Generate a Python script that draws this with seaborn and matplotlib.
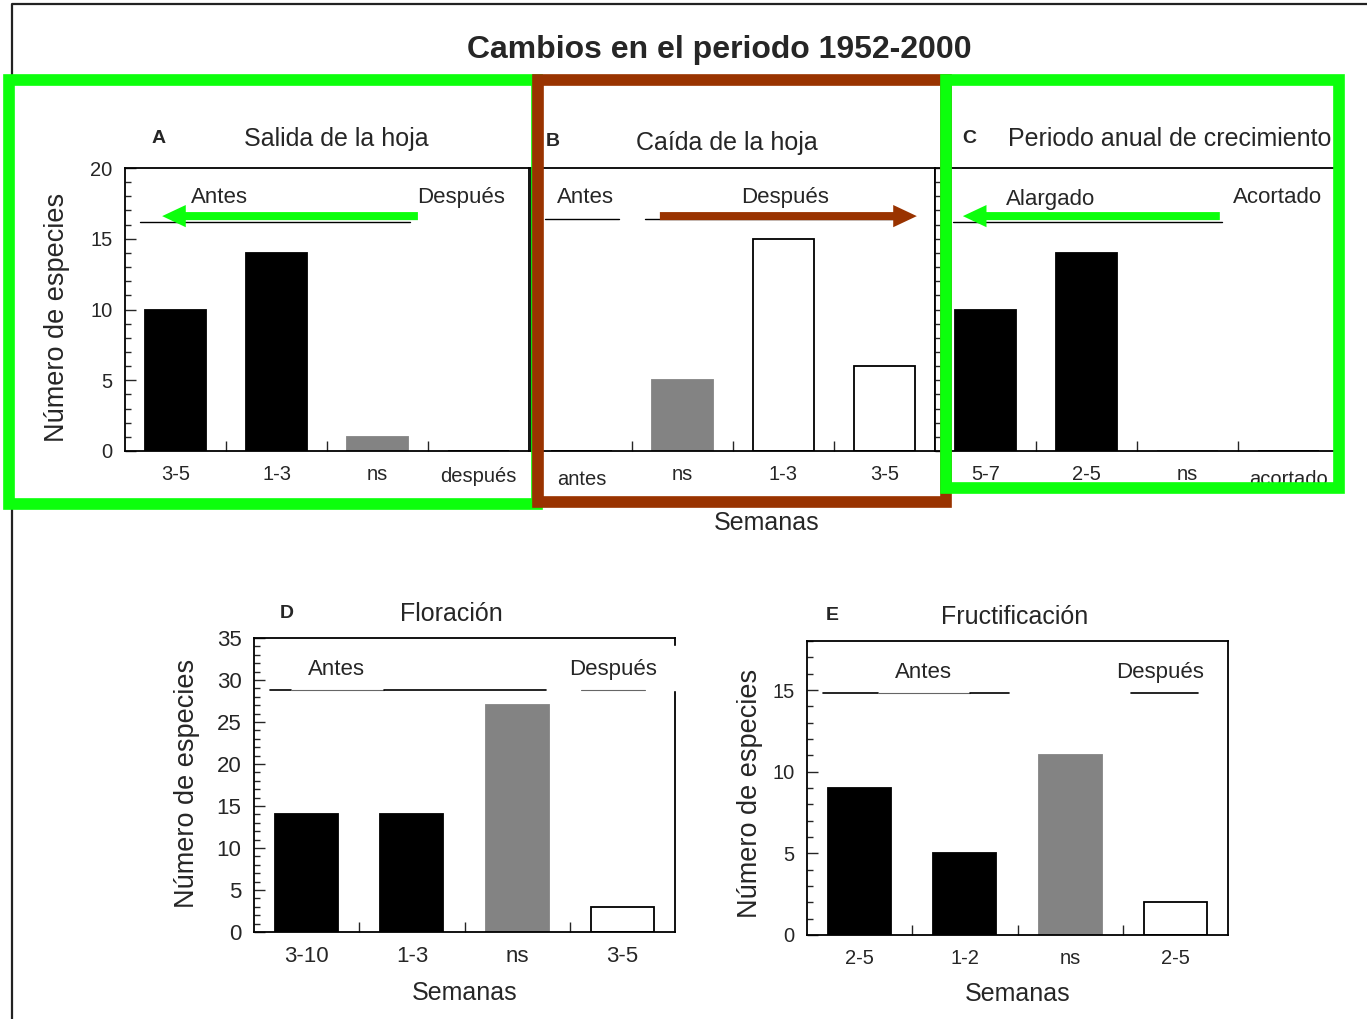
import matplotlib
matplotlib.use("Agg")
import matplotlib.pyplot as plt
import matplotlib.patches as mpatches
import matplotlib.transforms as mtransforms
from matplotlib.lines import Line2D
import seaborn as sns

sns.set_style("white")
plt.rcParams["font.family"] = ["Liberation Sans", "DejaVu Sans"]

BLACK = "#000000"
GRAY = "#838383"
WHITE = "#ffffff"
GREEN = "#0cff0c"
BROWN = "#993300"

# ── data ──────────────────────────────────────────────────────────────────────
a_labels = ["3-5", "1-3", "ns", "después"]
a_values = [10, 14, 1, 0]
a_colors = [BLACK, BLACK, GRAY, WHITE]

b_labels = ["antes", "ns", "1-3", "3-5"]
b_values = [0, 5, 15, 6]
b_colors = [BLACK, GRAY, WHITE, WHITE]

c_labels = ["5-7", "2-5", "ns", "acortado"]
c_values = [10, 14, 0, 0]
c_colors = [BLACK, BLACK, GRAY, WHITE]

d_labels = ["3-10", "1-3", "ns", "3-5"]
d_values = [14, 14, 27, 3]
d_colors = [BLACK, BLACK, GRAY, WHITE]

e_labels = ["2-5", "1-2", "ns", "2-5"]
e_values = [9, 5, 11, 2]
e_colors = [BLACK, BLACK, GRAY, WHITE]

W, H = 1367, 1019
fig = plt.figure(figsize=(W / 100, H / 100), dpi=100)


def box(l, t, r, b):
    return [l / W, 1 - b / H, (r - l) / W, (b - t) / H]


def panel(rect, labels, values, colors, ymax, ylabels=True, tsize=14.5):
    ax = fig.add_axes(rect)
    pos = list(range(len(values)))
    sns.barplot(x=pos, y=values, hue=pos, palette=dict(zip(pos, colors)),
                legend=False, width=0.6, saturation=1, ax=ax)
    for p, c in zip(ax.patches, colors):
        p.set_edgecolor(GRAY if c == GRAY else BLACK)
        p.set_linewidth(1.3)
    ax.set_xlim(-0.5, 3.5)
    ax.set_ylim(0, ymax)
    ax.set_xticks(pos, labels)
    ax.set_xticks([0.5, 1.5, 2.5], minor=True)
    ax.set_yticks(list(range(0, ymax + 1, 5)))
    ax.set_yticks(list(range(0, ymax + 1)), minor=True)
    ax.set_xlabel("")
    ax.set_ylabel("")
    ax.tick_params(axis="x", which="major", length=0, pad=10, labelsize=tsize)
    ax.tick_params(axis="x", which="minor", length=7, width=1, direction="in",
                   bottom=True, top=False)
    ax.tick_params(axis="y", which="major", length=8, width=1, direction="in",
                   labelsize=tsize, pad=9, left=True, right=False, labelleft=ylabels)
    ax.tick_params(axis="y", which="minor", length=4, width=1, direction="in",
                   left=True, right=False)
    for s in ax.spines.values():
        s.set_visible(True)
        s.set_color(BLACK)
        s.set_linewidth(1.3)
    return ax


def lower_label(ax, idx, pts=3):
    lbl = ax.get_xticklabels()[idx]
    lbl.set_transform(lbl.get_transform() +
                      mtransforms.ScaledTranslation(0, -pts / 72, fig.dpi_scale_trans))


def head(ax, letter, lx, ly, title, tx, ty):
    ax.text(lx, ly, letter, transform=ax.transAxes, ha="center", va="center",
            fontsize=14, fontweight="bold")
    ax.text(tx, ty, title, transform=ax.transAxes, ha="center", va="center",
            fontsize=18)


def label(ax, x, y, s):
    ax.text(x, y, s, transform=ax.get_yaxis_transform(), ha="center",
            va="center", fontsize=16)


def arrow(ax, tail, tip, y, color):
    tr = ax.get_yaxis_transform()
    ax.annotate("", xy=(tip, y), xytext=(tail, y), xycoords=tr, textcoords=tr,
                arrowprops=dict(arrowstyle="simple,head_length=1.7,head_width=1.6,tail_width=0.58",
                                mutation_scale=10, color=color, lw=0,
                                shrinkA=0, shrinkB=0),
                annotation_clip=False, zorder=5)


# ── A: Salida de la hoja ──────────────────────────────────────────────────────
axA = panel(box(125, 168, 529, 451), a_labels, a_values, a_colors, 20)
head(axA, "A", 0.084, 1.106, "Salida de la hoja", 0.522, 1.1025)
axA.axhline(16.2, 0.037, 0.705, color=BLACK, lw=1)
label(axA, 0.235, 17.9, "Antes")
label(axA, 0.832, 17.9, "Después")
arrow(axA, 0.725, 0.092, 16.6, GREEN)
axA.set_ylabel("Número de especies", fontsize=19.5)
axA.yaxis.set_label_coords(-0.168, 0.473)
axA.yaxis.label.set_verticalalignment("center")
lower_label(axA, 3, 1.5)

# ── B: Caída de la hoja ───────────────────────────────────────────────────────
axB = panel(box(531, 168, 935, 451), b_labels, b_values, b_colors, 20, ylabels=False)
head(axB, "B", 0.054, 1.092, "Caída de la hoja", 0.485, 1.088)
axB.axhline(16.4, 0.035, 0.218, color=BLACK, lw=1)
axB.axhline(16.4, 0.282, 0.9, color=BLACK, lw=1)
label(axB, 0.134, 17.95, "Antes")
label(axB, 0.629, 17.9, "Después")
arrow(axB, 0.319, 0.955, 16.6, BROWN)
lower_label(axB, 0, 3.5)

# ── C: Periodo anual de crecimiento ───────────────────────────────────────────
axC = panel(box(935, 168, 1339, 451), c_labels, c_values, c_colors, 20, ylabels=False)
head(axC, "C", 0.084, 1.106, "Periodo anual de crecimiento", 0.58, 1.1025)
axC.axhline(16.2, 0.045, 0.71, color=BLACK, lw=1)
label(axC, 0.285, 17.8, "Alargado")
label(axC, 0.847, 17.95, "Acortado")
arrow(axC, 0.705, 0.069, 16.6, GREEN)
lower_label(axC, 3, 4)

# ── D: Floración ──────────────────────────────────────────────────────────────
axD = panel(box(254, 638, 675, 932), d_labels, d_values, d_colors, 35, tsize=16)
head(axD, "D", 0.078, 1.085, "Floración", 0.470, 1.082)
axD.axhline(28.8, 0.038, 0.088, color=BLACK, lw=1.2)
axD.axhline(28.8, 0.088, 0.309, color="#666666", lw=0.8)
axD.axhline(28.8, 0.309, 0.694, color=BLACK, lw=1.2)
axD.axhline(28.8, 0.777, 0.929, color="#666666", lw=0.8)
label(axD, 0.197, 31.2, "Antes")
label(axD, 0.853, 31.2, "Después")
axD.add_patch(mpatches.Rectangle((0.985, 0.823), 0.03, 0.15, transform=axD.transAxes,
                                 color=WHITE, clip_on=False, zorder=6))
axD.set_xlabel("Semanas", fontsize=18, labelpad=10)
axD.set_ylabel("Número de especies", fontsize=19.5)
axD.yaxis.set_label_coords(-0.159, 0.507)
axD.yaxis.label.set_verticalalignment("center")

# ── E: Fructificación ─────────────────────────────────────────────────────────
axE = panel(box(807, 641, 1228, 935), e_labels, e_values, e_colors, 18)
head(axE, "E", 0.059, 1.088, "Fructificación", 0.494, 1.082)
axE.axhline(14.8, 0.038, 0.169, color=BLACK, lw=1.2)
axE.axhline(14.8, 0.169, 0.387, color="#666666", lw=0.8)
axE.axhline(14.8, 0.387, 0.48, color=BLACK, lw=1.2)
axE.axhline(14.8, 0.77, 0.929, color=BLACK, lw=1.2)
label(axE, 0.276, 16.1, "Antes")
label(axE, 0.838, 16.1, "Después")
axE.set_xlabel("Semanas", fontsize=18, labelpad=10)
axE.set_ylabel("Número de especies", fontsize=19.5)
axE.yaxis.set_label_coords(-0.135, 0.483)
axE.yaxis.label.set_verticalalignment("center")

# ── figure-level text and frames ──────────────────────────────────────────────
fig.text(719 / W, 1 - 50 / H, "Cambios en el periodo 1952-2000", ha="center",
         va="center", fontsize=23, fontweight="bold")
fig.text(767 / W, 1 - 523 / H, "Semanas", ha="center", va="center", fontsize=18)

fig.add_artist(Line2D([12 / W, 12 / W, 1.0], [0.0, 1 - 4 / H, 1 - 4 / H],
                      transform=fig.transFigure, color="#222222", lw=1.6, zorder=3))


def frame(l, t, r, b, color, z):
    fig.add_artist(mpatches.Rectangle((l / W, 1 - b / H), (r - l) / W, (b - t) / H,
                                      transform=fig.transFigure, fill=False,
                                      edgecolor=color, lw=8.4, joinstyle="miter",
                                      zorder=z))


frame(8.5, 80, 537, 503.5, GREEN, 4)
frame(537.5, 80, 946, 502, BROWN, 5)
frame(946, 80, 1339, 488, GREEN, 6)

fig.savefig("out.png", dpi=100)
